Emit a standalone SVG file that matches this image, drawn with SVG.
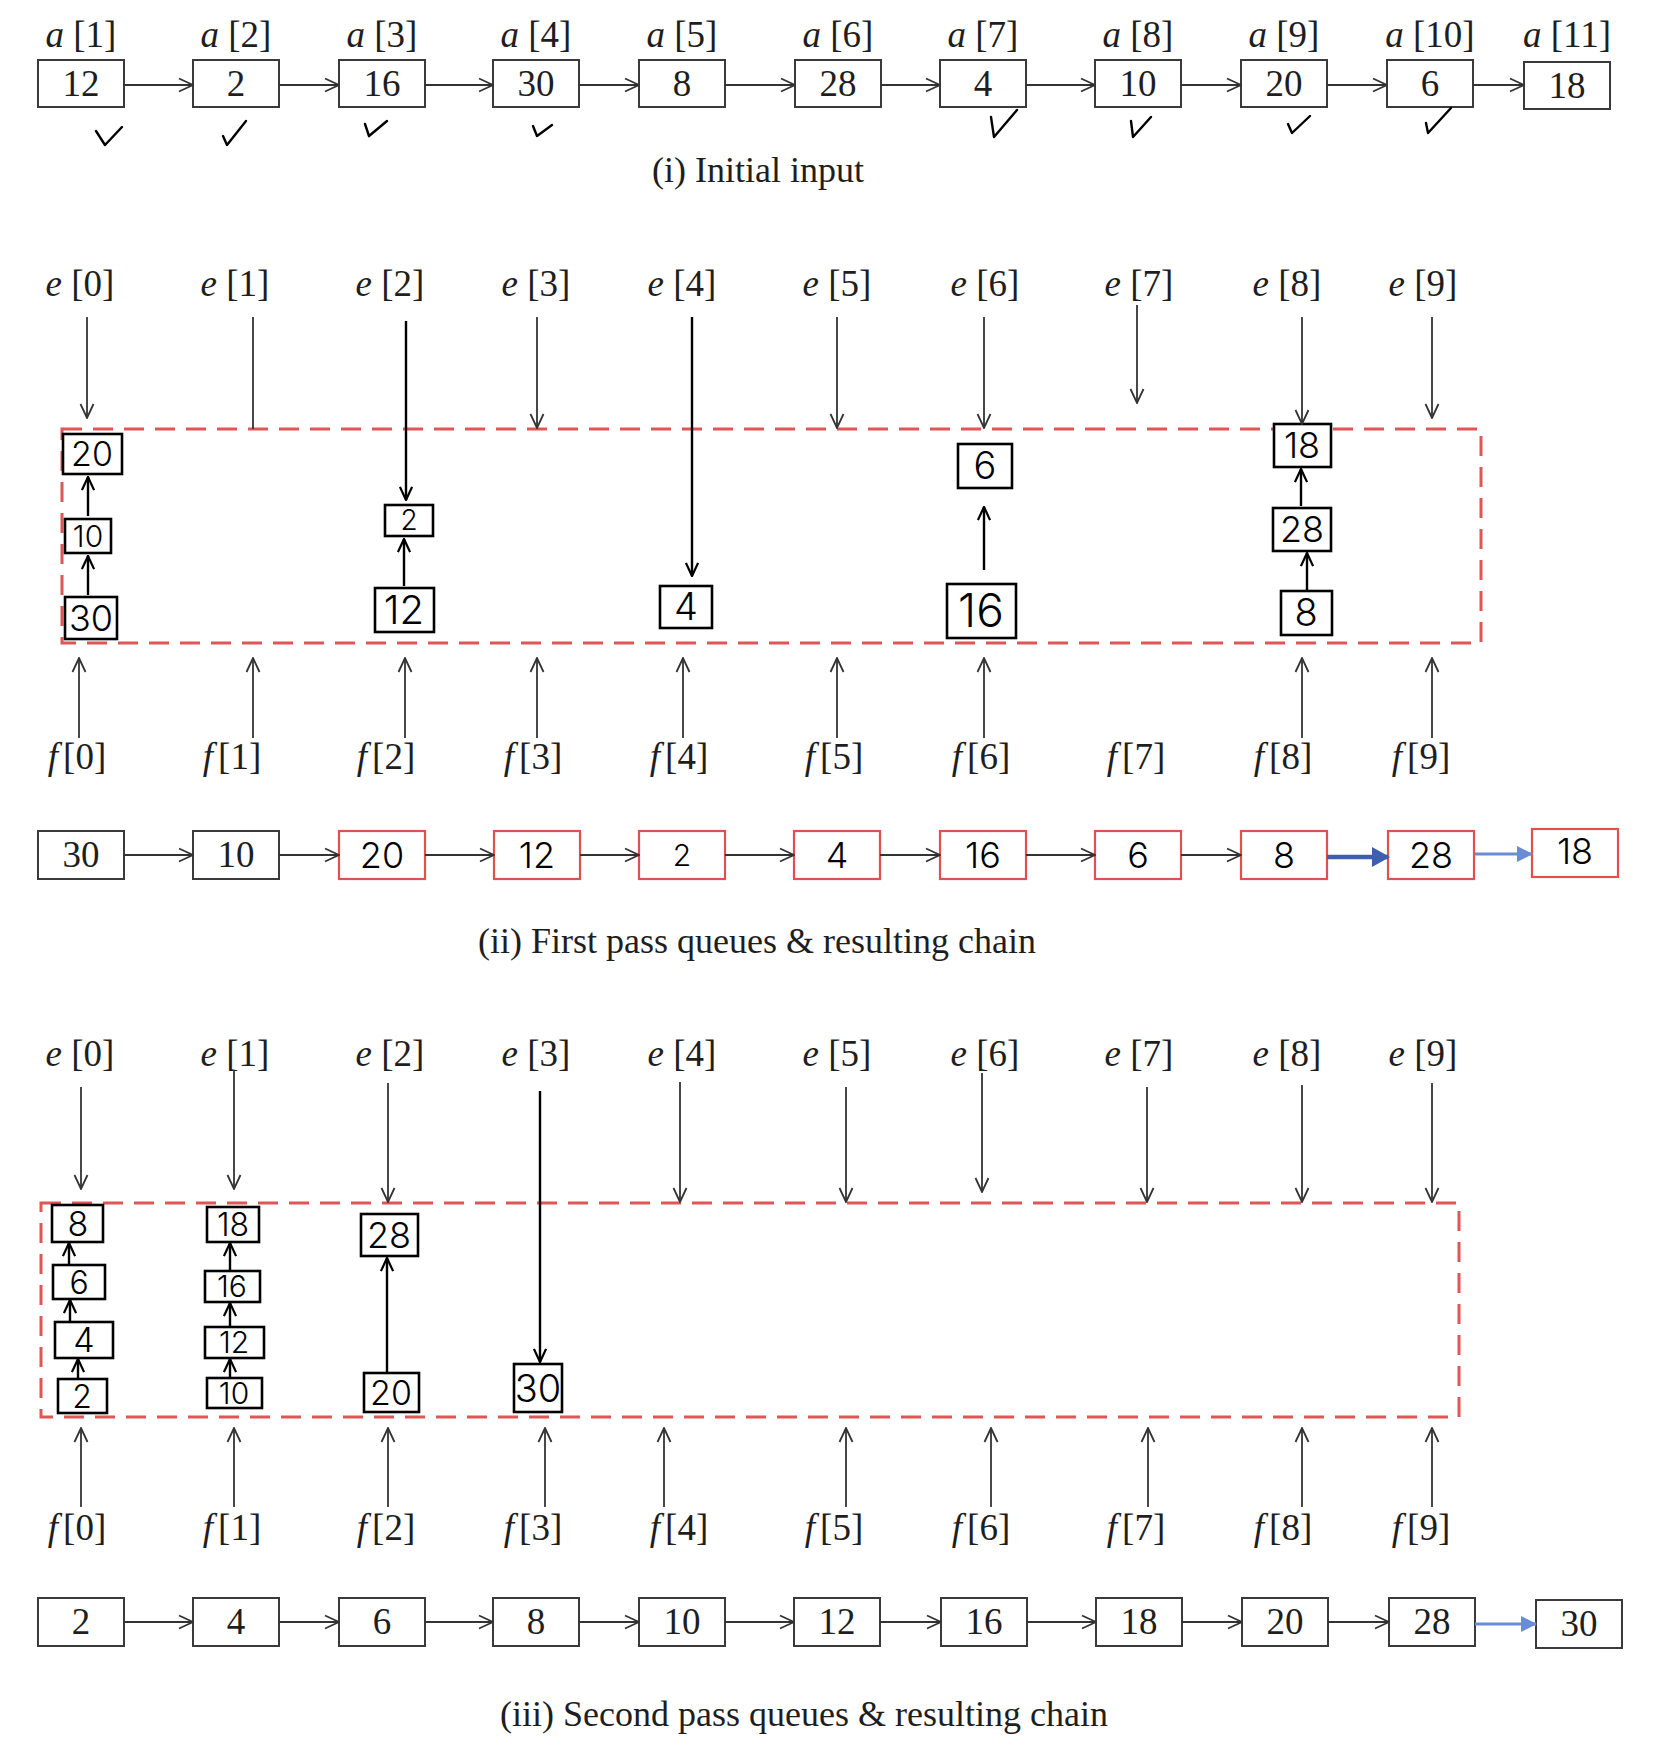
<svg xmlns="http://www.w3.org/2000/svg" width="1668" height="1748" viewBox="0 0 1668 1748">
<style>
text{font-family:"Liberation Serif","Times New Roman",serif;fill:#1e1e1e;text-anchor:middle}
.lbl{font-size:37px}
.num{font-size:37px}
.cap{font-size:36px}
.hw{font-family:Inter,Lato,"Open Sans",sans-serif;font-weight:300;fill:#000}
.box{fill:#fff;stroke:#3a3a3a;stroke-width:2}
.rbox{fill:#fff;stroke:#e0504f;stroke-width:2.2}
.qbox{fill:#fff;stroke:#000;stroke-width:2.6}
.conn{stroke:#333;stroke-width:1.8;fill:none}
.hwa{stroke:#000;stroke-width:2.4;fill:none}
.tick{stroke:#000;stroke-width:2.4;fill:none;stroke-linecap:round;stroke-linejoin:round}
.dash{fill:none;stroke:#e05555;stroke-width:3;stroke-dasharray:20 11}
.b1{stroke:#3d5fae;stroke-width:4.5;fill:none}
.b2{stroke:#6a8cd4;stroke-width:3;fill:none}
</style>
<defs>
<marker id="arr" viewBox="0 0 16 16" markerWidth="16" markerHeight="16" refX="15" refY="8" orient="auto" markerUnits="userSpaceOnUse"><path d="M1,1.5 L15,8 L1,14.5" fill="none" stroke="#333" stroke-width="1.8"/></marker>
<marker id="harr" viewBox="0 0 16 16" markerWidth="15" markerHeight="15" refX="15" refY="8" orient="auto" markerUnits="userSpaceOnUse"><path d="M1,1.5 L15,8 L1,14.5" fill="none" stroke="#000" stroke-width="2.4"/></marker>
<marker id="blue1" viewBox="0 0 18 20" markerWidth="18" markerHeight="20" refX="16" refY="10" orient="auto" markerUnits="userSpaceOnUse"><path d="M0,0 L18,10 L0,20 Z" fill="#3d5fae"/></marker>
<marker id="blue2" viewBox="0 0 16 16" markerWidth="16" markerHeight="16" refX="15" refY="8" orient="auto" markerUnits="userSpaceOnUse"><path d="M0,0 L16,8 L0,16 Z" fill="#6a8cd4"/></marker>
</defs>
<rect width="1668" height="1748" fill="#fff"/>

<!-- ===== Section (i) ===== -->
<g id="sec1-labels" class="lbl">
<text x="81" y="47"><tspan font-style="italic">a</tspan> [1]</text>
<text x="236" y="47"><tspan font-style="italic">a</tspan> [2]</text>
<text x="382" y="47"><tspan font-style="italic">a</tspan> [3]</text>
<text x="536" y="47"><tspan font-style="italic">a</tspan> [4]</text>
<text x="682" y="47"><tspan font-style="italic">a</tspan> [5]</text>
<text x="838" y="47"><tspan font-style="italic">a</tspan> [6]</text>
<text x="983" y="47"><tspan font-style="italic">a</tspan> [7]</text>
<text x="1138" y="47"><tspan font-style="italic">a</tspan> [8]</text>
<text x="1284" y="47"><tspan font-style="italic">a</tspan> [9]</text>
<text x="1430" y="47"><tspan font-style="italic">a</tspan> [10]</text>
<text x="1567" y="47"><tspan font-style="italic">a</tspan> [11]</text>
</g>
<g id="a1"><rect class="box" x="38" y="60" width="86" height="47"/><text class="num" x="81" y="96">12</text></g>
<g id="a2"><rect class="box" x="193" y="60" width="86" height="47"/><text class="num" x="236" y="96">2</text></g>
<g id="a3"><rect class="box" x="339" y="60" width="86" height="47"/><text class="num" x="382" y="96">16</text></g>
<g id="a4"><rect class="box" x="493" y="60" width="86" height="47"/><text class="num" x="536" y="96">30</text></g>
<g id="a5"><rect class="box" x="639" y="60" width="86" height="47"/><text class="num" x="682" y="96">8</text></g>
<g id="a6"><rect class="box" x="795" y="60" width="86" height="47"/><text class="num" x="838" y="96">28</text></g>
<g id="a7"><rect class="box" x="940" y="60" width="86" height="47"/><text class="num" x="983" y="96">4</text></g>
<g id="a8"><rect class="box" x="1095" y="60" width="86" height="47"/><text class="num" x="1138" y="96">10</text></g>
<g id="a9"><rect class="box" x="1241" y="60" width="86" height="47"/><text class="num" x="1284" y="96">20</text></g>
<g id="a10"><rect class="box" x="1387" y="60" width="86" height="47"/><text class="num" x="1430" y="96">6</text></g>
<g id="a11"><rect class="box" x="1524" y="62" width="86" height="47"/><text class="num" x="1567" y="98">18</text></g>
<g id="ticks" class="tick">
<path d="M96,131 L105,145 L122,127"/>
<path d="M223,136 L227,145 L246,121"/>
<path d="M365,124 L369,136 L387,121"/>
<path d="M533,126 L537,136 L552,125"/>
<path d="M991,117 L994,137 L1017,110"/>
<path d="M1131,121 L1133,137 L1151,117"/>
<path d="M1288,124 L1292,133 L1310,116"/>
<path d="M1426,123 L1428,133 L1451,108"/>
</g>
<text class="cap" x="758" y="182">(i) Initial input</text>

<!-- ===== Section (ii) ===== -->
<g id="sec2-elabels" class="lbl">
<text x="80" y="296"><tspan font-style="italic">e</tspan> [0]</text>
<text x="235" y="296"><tspan font-style="italic">e</tspan> [1]</text>
<text x="390" y="296"><tspan font-style="italic">e</tspan> [2]</text>
<text x="536" y="296"><tspan font-style="italic">e</tspan> [3]</text>
<text x="682" y="296"><tspan font-style="italic">e</tspan> [4]</text>
<text x="837" y="296"><tspan font-style="italic">e</tspan> [5]</text>
<text x="985" y="296"><tspan font-style="italic">e</tspan> [6]</text>
<text x="1139" y="296"><tspan font-style="italic">e</tspan> [7]</text>
<text x="1287" y="296"><tspan font-style="italic">e</tspan> [8]</text>
<text x="1423" y="296"><tspan font-style="italic">e</tspan> [9]</text>
</g>
<g id="sec2-flabels" class="lbl">
<text x="77" y="769"><tspan font-style="italic">f</tspan><tspan dx="5">[0]</tspan></text>
<text x="232" y="769"><tspan font-style="italic">f</tspan><tspan dx="5">[1]</tspan></text>
<text x="386" y="769"><tspan font-style="italic">f</tspan><tspan dx="5">[2]</tspan></text>
<text x="533" y="769"><tspan font-style="italic">f</tspan><tspan dx="5">[3]</tspan></text>
<text x="679" y="769"><tspan font-style="italic">f</tspan><tspan dx="5">[4]</tspan></text>
<text x="834" y="769"><tspan font-style="italic">f</tspan><tspan dx="5">[5]</tspan></text>
<text x="981" y="769"><tspan font-style="italic">f</tspan><tspan dx="5">[6]</tspan></text>
<text x="1136" y="769"><tspan font-style="italic">f</tspan><tspan dx="5">[7]</tspan></text>
<text x="1283" y="769"><tspan font-style="italic">f</tspan><tspan dx="5">[8]</tspan></text>
<text x="1421" y="769"><tspan font-style="italic">f</tspan><tspan dx="5">[9]</tspan></text>
</g>
<rect id="queues1" class="dash" x="62" y="429" width="1419" height="214"/>
<g id="q1-20"><rect class="qbox" x="63" y="434" width="59" height="40"/><text class="hw" x="92" y="466" font-size="34">20</text></g>
<g id="q1-10"><rect class="qbox" x="65" y="519" width="46" height="34"/><text class="hw" x="88" y="547" font-size="30">10</text></g>
<g id="q1-30"><rect class="qbox" x="65" y="597" width="52" height="42"/><text class="hw" x="91" y="631" font-size="36">30</text></g>
<g id="q1-2"><rect class="qbox" x="385" y="505" width="48" height="31"/><text class="hw" x="409" y="530" font-size="28">2</text></g>
<g id="q1-12"><rect class="qbox" x="375" y="588" width="59" height="44"/><text class="hw" x="404" y="624" font-size="40">12</text></g>
<g id="q1-4"><rect class="qbox" x="660" y="586" width="52" height="42"/><text class="hw" x="686" y="620" font-size="38">4</text></g>
<g id="q1-6"><rect class="qbox" x="958" y="444" width="54" height="44"/><text class="hw" x="985" y="479" font-size="38">6</text></g>
<g id="q1-16"><rect class="qbox" x="947" y="584" width="69" height="54"/><text class="hw" x="981" y="627" font-size="46">16</text></g>
<g id="q1-18"><rect class="qbox" x="1274" y="424" width="57" height="43"/><text class="hw" x="1302" y="458" font-size="36">18</text></g>
<g id="q1-28"><rect class="qbox" x="1273" y="508" width="58" height="43"/><text class="hw" x="1302" y="542" font-size="36">28</text></g>
<g id="q1-8"><rect class="qbox" x="1281" y="591" width="51" height="44"/><text class="hw" x="1306" y="626" font-size="38">8</text></g>

<g id="chain1">
<g id="c1-30"><rect class="box" x="38" y="831" width="86" height="48"/><text class="num" x="81" y="867">30</text></g>
<g id="c1-10"><rect class="box" x="193" y="831" width="86" height="48"/><text class="num" x="236" y="867">10</text></g>
<g id="c1-20"><rect class="rbox" x="339" y="831" width="86" height="48"/><text class="hw" x="382" y="868" font-size="36">20</text></g>
<g id="c1-12"><rect class="rbox" x="494" y="831" width="86" height="48"/><text class="hw" x="537" y="868" font-size="36">12</text></g>
<g id="c1-2"><rect class="rbox" x="639" y="831" width="86" height="48"/><text class="hw" x="682" y="866" font-size="30">2</text></g>
<g id="c1-4"><rect class="rbox" x="794" y="831" width="86" height="48"/><text class="hw" x="837" y="868" font-size="36">4</text></g>
<g id="c1-16"><rect class="rbox" x="940" y="831" width="86" height="48"/><text class="hw" x="983" y="868" font-size="36">16</text></g>
<g id="c1-6"><rect class="rbox" x="1095" y="831" width="86" height="48"/><text class="hw" x="1138" y="868" font-size="36">6</text></g>
<g id="c1-8"><rect class="rbox" x="1241" y="831" width="86" height="48"/><text class="hw" x="1284" y="868" font-size="36">8</text></g>
<g id="c1-28"><rect class="rbox" x="1388" y="831" width="86" height="48"/><text class="hw" x="1431" y="868" font-size="36">28</text></g>
<g id="c1-18"><rect class="rbox" x="1532" y="829" width="86" height="48"/><text class="hw" x="1575" y="864" font-size="36">18</text></g>
</g>
<text class="cap" x="757" y="953">(ii) First pass queues &amp; resulting chain</text>

<!-- ===== Section (iii) ===== -->
<g id="sec3-elabels" class="lbl">
<text x="80" y="1066"><tspan font-style="italic">e</tspan> [0]</text>
<text x="235" y="1066"><tspan font-style="italic">e</tspan> [1]</text>
<text x="390" y="1066"><tspan font-style="italic">e</tspan> [2]</text>
<text x="536" y="1066"><tspan font-style="italic">e</tspan> [3]</text>
<text x="682" y="1066"><tspan font-style="italic">e</tspan> [4]</text>
<text x="837" y="1066"><tspan font-style="italic">e</tspan> [5]</text>
<text x="985" y="1066"><tspan font-style="italic">e</tspan> [6]</text>
<text x="1139" y="1066"><tspan font-style="italic">e</tspan> [7]</text>
<text x="1287" y="1066"><tspan font-style="italic">e</tspan> [8]</text>
<text x="1423" y="1066"><tspan font-style="italic">e</tspan> [9]</text>
</g>
<g id="sec3-flabels" class="lbl">
<text x="77" y="1540"><tspan font-style="italic">f</tspan><tspan dx="5">[0]</tspan></text>
<text x="232" y="1540"><tspan font-style="italic">f</tspan><tspan dx="5">[1]</tspan></text>
<text x="386" y="1540"><tspan font-style="italic">f</tspan><tspan dx="5">[2]</tspan></text>
<text x="533" y="1540"><tspan font-style="italic">f</tspan><tspan dx="5">[3]</tspan></text>
<text x="679" y="1540"><tspan font-style="italic">f</tspan><tspan dx="5">[4]</tspan></text>
<text x="834" y="1540"><tspan font-style="italic">f</tspan><tspan dx="5">[5]</tspan></text>
<text x="981" y="1540"><tspan font-style="italic">f</tspan><tspan dx="5">[6]</tspan></text>
<text x="1136" y="1540"><tspan font-style="italic">f</tspan><tspan dx="5">[7]</tspan></text>
<text x="1283" y="1540"><tspan font-style="italic">f</tspan><tspan dx="5">[8]</tspan></text>
<text x="1421" y="1540"><tspan font-style="italic">f</tspan><tspan dx="5">[9]</tspan></text>
</g>
<rect id="queues2" class="dash" x="41" y="1203" width="1418" height="214"/>
<g id="q2-8"><rect class="qbox" x="52" y="1205" width="51" height="37"/><text class="hw" x="78" y="1236" font-size="34">8</text></g>
<g id="q2-6"><rect class="qbox" x="53" y="1265" width="52" height="34"/><text class="hw" x="79" y="1294" font-size="32">6</text></g>
<g id="q2-4"><rect class="qbox" x="55" y="1322" width="58" height="36"/><text class="hw" x="84" y="1352" font-size="34">4</text></g>
<g id="q2-2"><rect class="qbox" x="58" y="1379" width="49" height="34"/><text class="hw" x="82" y="1408" font-size="32">2</text></g>
<g id="q2-18"><rect class="qbox" x="207" y="1207" width="52" height="35"/><text class="hw" x="233" y="1236" font-size="32">18</text></g>
<g id="q2-16"><rect class="qbox" x="205" y="1271" width="55" height="31"/><text class="hw" x="232" y="1297" font-size="30">16</text></g>
<g id="q2-12"><rect class="qbox" x="205" y="1327" width="59" height="31"/><text class="hw" x="234" y="1353" font-size="30">12</text></g>
<g id="q2-10"><rect class="qbox" x="207" y="1378" width="55" height="30"/><text class="hw" x="234" y="1404" font-size="30">10</text></g>
<g id="q2-28"><rect class="qbox" x="361" y="1214" width="57" height="42"/><text class="hw" x="389" y="1248" font-size="36">28</text></g>
<g id="q2-20"><rect class="qbox" x="364" y="1373" width="55" height="39"/><text class="hw" x="391" y="1405" font-size="34">20</text></g>
<g id="q2-30"><rect class="qbox" x="514" y="1364" width="48" height="48"/><text class="hw" x="538" y="1402" font-size="38">30</text></g>

<g id="chain2">
<g id="c2-2"><rect class="box" x="38" y="1598" width="86" height="48"/><text class="num" x="81" y="1634">2</text></g>
<g id="c2-4"><rect class="box" x="193" y="1598" width="86" height="48"/><text class="num" x="236" y="1634">4</text></g>
<g id="c2-6"><rect class="box" x="339" y="1598" width="86" height="48"/><text class="num" x="382" y="1634">6</text></g>
<g id="c2-8"><rect class="box" x="493" y="1598" width="86" height="48"/><text class="num" x="536" y="1634">8</text></g>
<g id="c2-10"><rect class="box" x="639" y="1598" width="86" height="48"/><text class="num" x="682" y="1634">10</text></g>
<g id="c2-12"><rect class="box" x="794" y="1598" width="86" height="48"/><text class="num" x="837" y="1634">12</text></g>
<g id="c2-16"><rect class="box" x="941" y="1598" width="86" height="48"/><text class="num" x="984" y="1634">16</text></g>
<g id="c2-18"><rect class="box" x="1096" y="1598" width="86" height="48"/><text class="num" x="1139" y="1634">18</text></g>
<g id="c2-20"><rect class="box" x="1242" y="1598" width="86" height="48"/><text class="num" x="1285" y="1634">20</text></g>
<g id="c2-28"><rect class="box" x="1389" y="1598" width="86" height="48"/><text class="num" x="1432" y="1634">28</text></g>
<g id="c2-30"><rect class="box" x="1536" y="1600" width="86" height="48"/><text class="num" x="1579" y="1636">30</text></g>
</g>
<text class="cap" x="804" y="1726">(iii) Second pass queues &amp; resulting chain</text>

<!-- ===== Connectors ===== -->
<g id="connectors">
<g class="conn" marker-end="url(#arr)">
<path d="M124,85 H193"/><path d="M279,85 H339"/><path d="M425,85 H493"/><path d="M579,85 H639"/><path d="M725,85 H795"/><path d="M881,85 H940"/><path d="M1026,85 H1095"/><path d="M1181,85 H1241"/><path d="M1327,85 H1387"/><path d="M1473,85 H1524"/>
</g>
<g class="conn" marker-end="url(#arr)">
<path d="M87,317 V418"/><path d="M537,317 V428"/><path d="M837,317 V428"/><path d="M984,317 V428"/><path d="M1137,305 V403"/><path d="M1302,317 V424"/><path d="M1432,317 V418"/>
</g>
<path class="conn" d="M253,317 V429"/>
<g class="hwa" marker-end="url(#harr)">
<path d="M406,321 V500"/><path d="M692,317 V576"/>
<path d="M88,595 V556"/><path d="M88,516 V477"/>
<path d="M404,586 V539"/>
<path d="M984,570 V507"/>
<path d="M1307,590 V553"/><path d="M1301,506 V469"/>
</g>
<g class="conn" marker-end="url(#arr)">
<path d="M79,738 V658"/><path d="M253,738 V658"/><path d="M405,738 V658"/><path d="M537,738 V658"/><path d="M683,738 V658"/><path d="M837,738 V658"/><path d="M984,738 V658"/><path d="M1302,738 V658"/><path d="M1432,738 V658"/>
</g>
<g class="conn" marker-end="url(#arr)">
<path d="M124,855 H193"/><path d="M279,855 H339"/><path d="M425,855 H494"/><path d="M580,855 H639"/><path d="M725,855 H794"/><path d="M880,855 H940"/><path d="M1026,855 H1095"/><path d="M1181,855 H1241"/>
</g>
<path class="b1" d="M1327,857 H1388" marker-end="url(#blue1)"/>
<path class="b2" d="M1475,854 H1532" marker-end="url(#blue2)"/>
<g class="conn" marker-end="url(#arr)">
<path d="M81,1087 V1189"/><path d="M234,1070 V1189"/><path d="M388,1083 V1202"/><path d="M680,1082 V1202"/><path d="M846,1087 V1202"/><path d="M982,1073 V1192"/><path d="M1147,1087 V1202"/><path d="M1302,1085 V1202"/><path d="M1432,1083 V1202"/>
</g>
<g class="hwa" marker-end="url(#harr)">
<path d="M540,1091 V1362"/>
<path d="M78,1378 V1359"/><path d="M70,1321 V1300"/><path d="M69,1264 V1243"/>
<path d="M230,1377 V1359"/><path d="M230,1326 V1303"/><path d="M230,1270 V1243"/>
<path d="M387,1372 V1258"/>
</g>
<g class="conn" marker-end="url(#arr)">
<path d="M81,1507 V1428"/><path d="M234,1507 V1428"/><path d="M388,1507 V1428"/><path d="M545,1507 V1428"/><path d="M664,1507 V1428"/><path d="M846,1507 V1428"/><path d="M991,1507 V1428"/><path d="M1148,1507 V1428"/><path d="M1302,1507 V1428"/><path d="M1432,1507 V1428"/>
</g>
<g class="conn" marker-end="url(#arr)">
<path d="M124,1622 H193"/><path d="M279,1622 H339"/><path d="M425,1622 H493"/><path d="M579,1622 H639"/><path d="M725,1622 H794"/><path d="M880,1622 H941"/><path d="M1027,1622 H1096"/><path d="M1182,1622 H1242"/><path d="M1328,1622 H1389"/>
</g>
<path class="b2" d="M1475,1624 H1536" marker-end="url(#blue2)"/>
</g>
</svg>
